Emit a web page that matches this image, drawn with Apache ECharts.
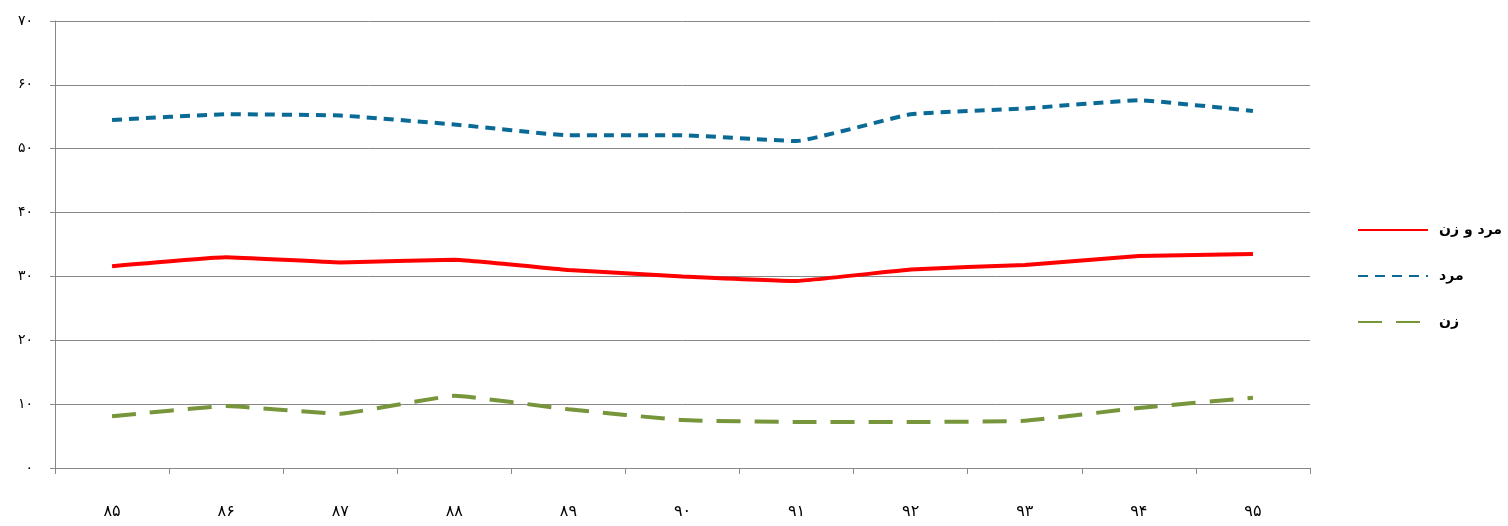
<!DOCTYPE html>
<html><head><meta charset="utf-8">
<script src="https://cdn.jsdelivr.net/npm/echarts@6/dist/echarts.min.js"></script>
<style>html,body{margin:0;background:#fff}#c{width:1508px;height:526px}</style>
</head><body><div id="c"></div>
<script>
const categories = ['۸۵','۸۶','۸۷','۸۸','۸۹','۹۰','۹۱','۹۲','۹۳','۹۴','۹۵'];
const yTickLabels = ['۰','۱۰','۲۰','۳۰','۴۰','۵۰','۶۰','۷۰'];
const both = [31.6,33.0,32.2,32.6,31.0,30.0,29.3,31.1,31.8,33.2,33.5];
const men = [54.5,55.4,55.2,53.8,52.1,52.1,51.2,55.4,56.3,57.6,55.9];
const women = [8.1,9.7,8.5,11.3,9.2,7.5,7.2,7.2,7.4,9.4,11.0];
const font = 'DejaVu Sans';
const chart = echarts.init(document.getElementById('c'));
chart.setOption({
  animation:false,
  textStyle:{fontFamily:font},
  grid:{left:55,right:198,top:21,bottom:58},
  legend:{orient:'vertical',left:1352,top:218,itemGap:32,itemWidth:70,itemHeight:4,
    itemStyle:{opacity:0},
    textStyle:{fontSize:14,fontWeight:'bold',color:'#000',fontFamily:font,padding:[0,0,0,6]},
    data:['مرد و زن','مرد','زن']},
  xAxis:{type:'category',data:categories,boundaryGap:true,
    axisLine:{lineStyle:{color:'#888'}},axisTick:{show:true,length:6,lineStyle:{color:'#888'}},
    axisLabel:{fontSize:16,color:'#000',margin:36}},
  yAxis:{type:'value',min:0,max:70,interval:10,
    axisLine:{show:true,lineStyle:{color:'#888'}},axisTick:{show:true,length:5,lineStyle:{color:'#888'}},
    splitLine:{lineStyle:{color:'#888'}},
    axisLabel:{fontSize:14,color:'#000',margin:22,formatter:v=>yTickLabels[v/10]}},
  series:[
    {name:'مرد و زن',type:'line',data:both,smooth:0.1,symbol:'none',lineStyle:{color:'#ff0000',width:4},itemStyle:{color:'#ff0000'}},
    {name:'مرد',type:'line',data:men,smooth:0.1,symbol:'none',lineStyle:{color:'#0a6a96',width:4,type:[10,7]},itemStyle:{color:'#0a6a96'}},
    {name:'زن',type:'line',data:women,smooth:0.1,symbol:'none',lineStyle:{color:'#77953a',width:4,type:[24,14]},itemStyle:{color:'#77953a'}}
  ]
});
</script></body></html>
